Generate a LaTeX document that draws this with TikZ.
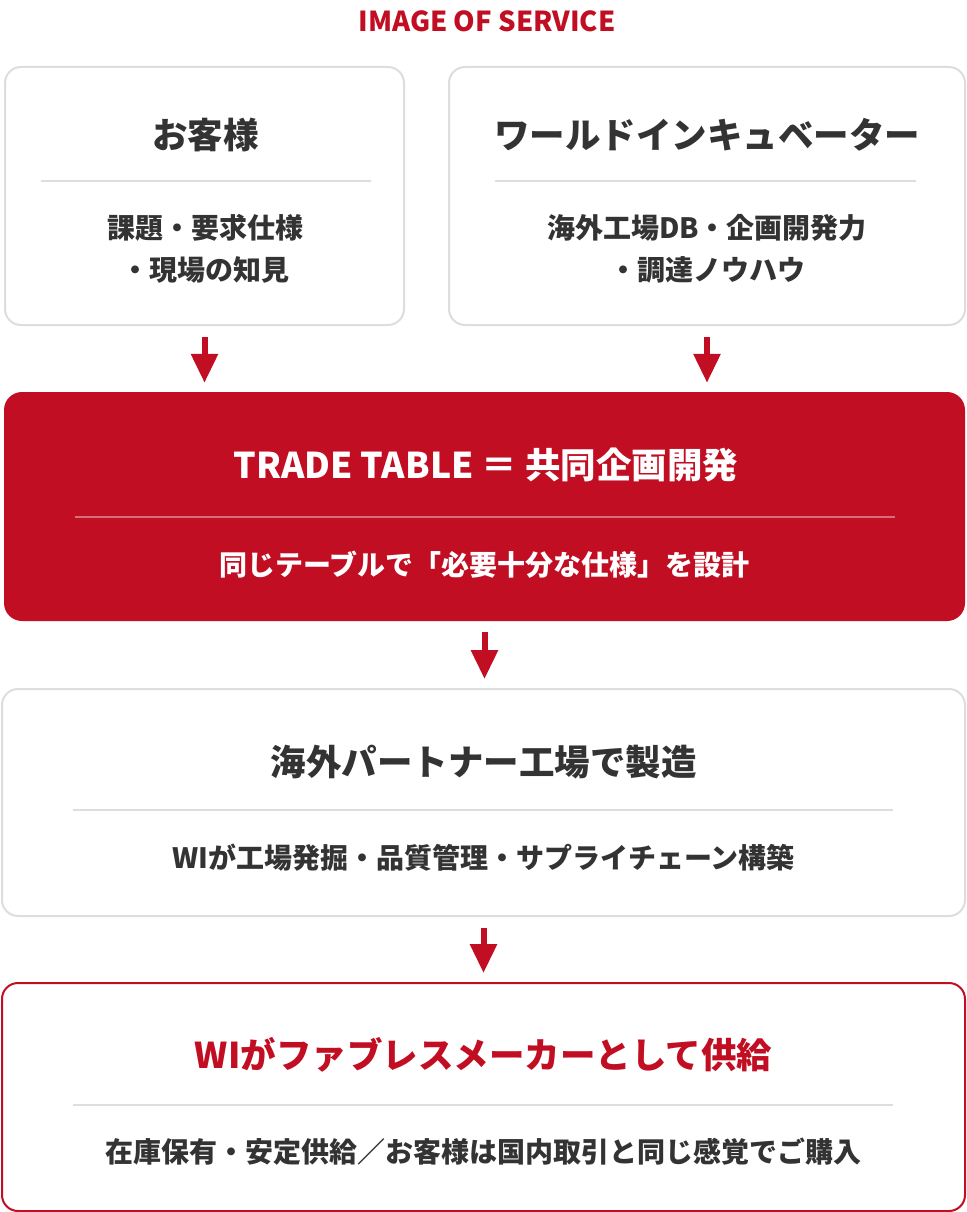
\documentclass[tikz,border=0pt]{standalone}
\usepackage{fontspec}
\setmainfont{Noto Sans CJK JP}
\usetikzlibrary{arrows.meta}

\definecolor{wired}{HTML}{C10E23}
\definecolor{wigray}{HTML}{DDDDDD}
\definecolor{witext}{HTML}{333333}

\tikzset{
	card/.style={draw=wigray, line width=2pt, rounded corners=16pt, fill=white},
	headline/.style={font=\fontsize{35.5}{40}\selectfont\bfseries, text=witext},
	bodytext/.style={font=\fontsize{28}{42}\selectfont\bfseries, text=witext, align=center},
	rule/.style={draw=wigray, line width=1.5pt},
	flow/.style={wired, line width=6pt, -{Triangle[width=26pt,length=29pt]}, shorten <=11pt, shorten >=9pt},
}

\begin{document}
\begin{tikzpicture}[x=1pt, y=-1pt]
	\useasboundingbox (0,0) rectangle (966,1212);

	\node[font=\fontsize{27.5}{30}\selectfont\bfseries, text=wired] (caption) at (487,21) {IMAGE OF SERVICE};

	% inputs
	\node[card, minimum width=399pt, minimum height=258pt] (client) at (204.5,196) {};
	\node[card, minimum width=516pt, minimum height=258pt] (wi) at (707,196) {};

	\node[headline] (clientTitle) at (205.5,135) {お客様};
	\draw[rule] (41,181) -- (371,181);
	\node[bodytext] (clientBody) at (205.5,249) {課題・要求仕様\\・現場の知見};

	\node[headline] (wiTitle) at (707,135) {ワールドインキュベーター};
	\draw[rule] (495,181) -- (916,181);
	\node[bodytext] (wiBody) at (707,249) {海外工場DB・企画開発力\\・調達ノウハウ};

	% trade table
	\node[fill=wired, rounded corners=18pt, minimum width=961pt, minimum height=229pt] (trade) at (484.5,506.5) {};
	\node[headline, text=white] (tradeTitle) at (486,465) {TRADE TABLE ＝ 共同企画開発};
	\draw[white, opacity=0.4, line width=1.5pt] (75,517) -- (895,517);
	\node[bodytext, text=white] (tradeBody) at (484.5,565) {同じテーブルで「必要十分な仕様」を設計};

	% factory
	\node[card, minimum width=963pt, minimum height=227pt] (factory) at (483.5,802.5) {};
	\node[headline] (factoryTitle) at (483.5,762) {海外パートナー工場で製造};
	\draw[rule] (73,810) -- (893,810);
	\node[bodytext] (factoryBody) at (483.5,858) {WIが工場発掘・品質管理・サプライチェーン構築};

	% supply
	\node[card, draw=wired, minimum width=963pt, minimum height=228pt] (supply) at (483.5,1097) {};
	\node[headline, text=wired] (supplyTitle) at (483.5,1055) {WIがファブレスメーカーとして供給};
	\draw[rule] (73,1105) -- (893,1105);
	\node[bodytext] (supplyBody) at (483.5,1152) {在庫保有・安定供給／お客様は国内取引と同じ感覚でご購入};

	\draw[flow] (client.south) -- (client.south |- trade.north);
	\draw[flow] (wi.south) -- (wi.south |- trade.north);
	\draw[flow] (trade.south) -- (trade.south |- factory.north);
	\draw[flow] (factory.south) -- (factory.south |- supply.north);
\end{tikzpicture}
\end{document}
